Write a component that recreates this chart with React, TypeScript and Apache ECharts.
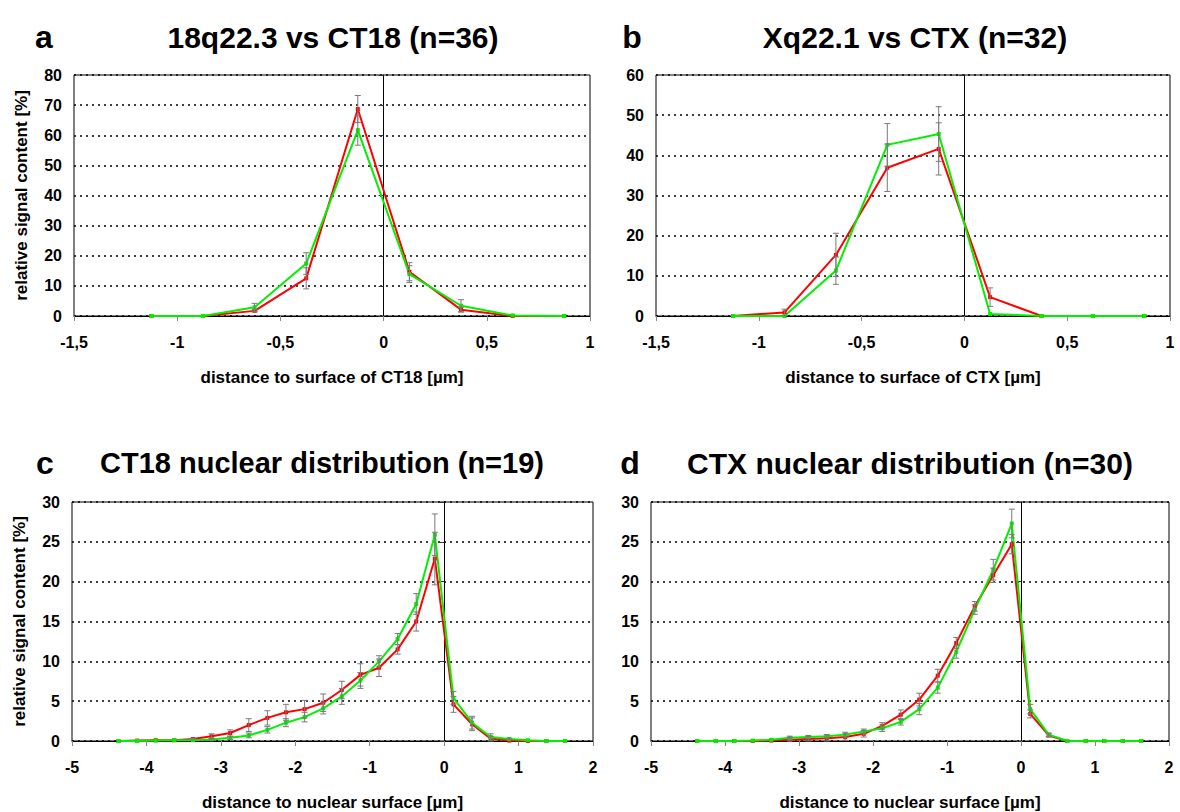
import React, { useEffect, useRef } from "react";
import * as echarts from "echarts";

// ---- Data ----
const xSurface = [-1.125, -0.875, -0.625, -0.375, -0.125, 0.125, 0.375, 0.625, 0.875];
const redA = [0, 0, 1.7, 12.5, 68.7, 14.7, 2.1, 0, 0];
const greenA = [0, 0, 2.9, 17.4, 61.7, 13.9, 3.4, 0.2, 0];
const redErrA = [0, 0, 0.4, 3.5, 4.5, 3.0, 0.8, 0, 0];
const greenErrA = [0, 0, 1.3, 3.6, 5.0, 2.8, 2.0, 0, 0];

const redB = [0, 0.9, 15.2, 36.9, 41.6, 4.7, 0, 0, 0];
const greenB = [0, 0, 11.3, 42.6, 45.3, 0.5, 0, 0, 0];
const redErrB = [0, 0.8, 5.4, 5.9, 6.5, 2.3, 0, 0, 0];
const greenErrB = [0, 0, 3.4, 5.3, 6.8, 0, 0, 0, 0];

const xNuclear = [
  -4.375, -4.125, -3.875, -3.625, -3.375, -3.125, -2.875, -2.625, -2.375, -2.125,
  -1.875, -1.625, -1.375, -1.125, -0.875, -0.625, -0.375, -0.125, 0.125, 0.375,
  0.625, 0.875, 1.125, 1.375, 1.625,
];
const redC = [0, 0.05, 0.1, 0.1, 0.25, 0.6, 1.0, 2.0, 2.9, 3.6, 4.0, 4.8, 6.4, 8.3, 9.2, 11.5, 15.0, 22.9, 4.6, 2.1, 0.3, 0.05, 0, 0, 0];
const greenC = [0, 0, 0.05, 0.1, 0.1, 0.2, 0.4, 0.7, 1.4, 2.3, 3.0, 4.1, 5.6, 7.6, 10.0, 12.8, 17.2, 25.9, 5.4, 2.3, 0.5, 0.25, 0.1, 0, 0];
const redErrC = [0, 0, 0, 0, 0.1, 0.3, 0.4, 0.8, 0.9, 1.0, 1.1, 1.1, 1.1, 1.4, 1.1, 0.6, 1.2, 3.3, 1.0, 0.8, 0.3, 0, 0, 0, 0];
const greenErrC = [0, 0, 0, 0, 0, 0.1, 0.2, 0.3, 0.4, 0.5, 0.6, 0.7, 1.0, 1.0, 0.7, 0.7, 1.3, 2.6, 0.8, 0.8, 0.4, 0.1, 0, 0, 0];

const redD = [0, 0, 0, 0, 0.05, 0.15, 0.25, 0.35, 0.5, 0.9, 1.9, 3.3, 5.2, 8.2, 12.3, 16.9, 20.8, 24.7, 3.4, 0.7, 0, 0, 0, 0, 0];
const greenD = [0, 0, 0, 0.05, 0.15, 0.4, 0.5, 0.6, 0.8, 1.2, 1.6, 2.4, 4.0, 6.7, 11.2, 16.5, 21.5, 27.3, 4.0, 0.8, 0, 0, 0, 0, 0];
const redErrD = [0, 0, 0, 0, 0, 0.3, 0.3, 0.4, 0.4, 0.4, 0.4, 0.6, 0.8, 0.8, 0.7, 0.6, 0.9, 1.2, 0.5, 0.2, 0, 0, 0, 0, 0];
const greenErrD = [0, 0, 0, 0, 0, 0.2, 0.2, 0.2, 0.3, 0.3, 0.4, 0.4, 0.7, 0.7, 0.8, 0.6, 1.3, 1.8, 0.6, 0.2, 0, 0, 0, 0, 0];

const panelLetters = ["a", "b", "c", "d"];
const panelTitles = [
  "18q22.3 vs CT18 (n=36)",
  "Xq22.1 vs CTX (n=32)",
  "CT18 nuclear distribution (n=19)",
  "CTX nuclear distribution (n=30)",
];
const xNames = [
  "distance to surface of CT18 [µm]",
  "distance to surface of CTX [µm]",
  "distance to nuclear surface [µm]",
  "distance to nuclear surface [µm]",
];
const yName = "relative signal content [%]";

const FONT = '"Liberation Sans", Arial, sans-serif';
const RED = "#ff0000";
const GREEN = "#00f000";
const ERR = "#7a7a7a";

type Panel = {
  xs: number[];
  red: number[];
  green: number[];
  redErr: number[];
  greenErr: number[];
  xMin: number;
  xMax: number;
  xInt: number;
  yMax: number;
  yInt: number;
  grid: { left: number; top: number; width: number; height: number };
  showYName: boolean;
};

const panels: Panel[] = [
  { xs: xSurface, red: redA, green: greenA, redErr: redErrA, greenErr: greenErrA, xMin: -1.5, xMax: 1, xInt: 0.5, yMax: 80, yInt: 10, grid: { left: 74, top: 75, width: 516, height: 241 }, showYName: true },
  { xs: xSurface, red: redB, green: greenB, redErr: redErrB, greenErr: greenErrB, xMin: -1.5, xMax: 1, xInt: 0.5, yMax: 60, yInt: 10, grid: { left: 656, top: 75, width: 514, height: 241 }, showYName: false },
  { xs: xNuclear, red: redC, green: greenC, redErr: redErrC, greenErr: greenErrC, xMin: -5, xMax: 2, xInt: 1, yMax: 30, yInt: 5, grid: { left: 72, top: 502, width: 521, height: 243 }, showYName: true },
  { xs: xNuclear, red: redD, green: greenD, redErr: redErrD, greenErr: greenErrD, xMin: -5, xMax: 2, xInt: 1, yMax: 30, yInt: 5, grid: { left: 651, top: 502, width: 518, height: 243 }, showYName: false },
];

const letterPos = [
  [44, 37],
  [632, 37],
  [45, 463],
  [630, 463],
];
const titlePos = [
  [333, 37],
  [915, 37],
  [322, 463],
  [910, 463],
];
const titleSizes = [30, 30, 29, 30];

function errData(xs: number[], v: number[], e: number[]) {
  const out: number[][] = [];
  xs.forEach((x, i) => {
    if (e[i] > 0) out.push([x, Math.max(0, v[i] - e[i]), v[i] + e[i]]);
  });
  return out;
}

export default function App() {
  const ref = useRef<HTMLDivElement>(null);
  useEffect(() => {
    if (!ref.current) return;
    const chart = echarts.init(ref.current, undefined, { renderer: "svg" });

    const grids: any[] = [];
    const xAxes: any[] = [];
    const yAxes: any[] = [];
    const series: any[] = [];
    const graphics: any[] = [];

    panels.forEach((p, i) => {
      grids.push({ ...p.grid, show: true, borderColor: "#000", borderWidth: 1, backgroundColor: "transparent" });
      xAxes.push({
        type: "value",
        gridIndex: i,
        min: p.xMin,
        max: p.xMax,
        interval: p.xInt,
        axisLine: { onZero: false, lineStyle: { color: "#000", width: 1 } },
        axisTick: { show: true, length: 5, lineStyle: { color: "#888" } },
        splitLine: { show: false },
        axisLabel: {
          margin: 18,
          color: "#000",
          fontWeight: "bold",
          fontSize: 16,
          fontFamily: FONT,
          formatter: (v: number) => String(v).replace(".", ","),
        },
        name: xNames[i],
        nameLocation: "middle",
        nameGap: 53,
        nameTextStyle: { color: "#000", fontWeight: "bold", fontSize: 17, fontFamily: FONT },
      });
      yAxes.push({
        type: "value",
        gridIndex: i,
        position: "left",
        min: 0,
        max: p.yMax,
        interval: p.yInt,
        axisLine: { show: false, onZero: false },
        axisTick: { show: false },
        splitLine: { show: true, lineStyle: { color: "#000", type: [2, 4], width: 1.5 } },
        axisLabel: { margin: 12, color: "#000", fontWeight: "bold", fontSize: 16, fontFamily: FONT },
        name: p.showYName ? yName : "",
        nameLocation: "middle",
        nameGap: 44,
        nameTextStyle: { color: "#000", fontWeight: "bold", fontSize: 17, fontFamily: FONT },
      });
      yAxes.push({
        type: "value",
        gridIndex: i,
        position: "left",
        min: 0,
        max: p.yMax,
        interval: p.yInt,
        axisLine: { show: true, onZero: true, lineStyle: { color: "#000", width: 1 } },
        axisTick: { show: true, length: 5, lineStyle: { color: "#333" } },
        splitLine: { show: false },
        axisLabel: { show: false },
      });

      const mk = (name: string, vals: number[], color: string) => ({
        name,
        type: "line",
        xAxisIndex: i,
        yAxisIndex: i * 2,
        data: p.xs.map((x, k) => [x, vals[k]]),
        symbol: "rect",
        symbolSize: 4,
        showSymbol: true,
        lineStyle: { color, width: 2 },
        itemStyle: { color },
        z: 3,
      });
      series.push(mk("red", p.red, RED));
      series.push(mk("green", p.green, GREEN));
      [errData(p.xs, p.red, p.redErr), errData(p.xs, p.green, p.greenErr)].forEach((d) => {
        series.push({
          type: "custom",
          xAxisIndex: i,
          yAxisIndex: i * 2,
          data: d,
          encode: { x: 0, y: [1, 2] },
          z: 4,
          renderItem: (params: any, api: any) => {
            const lo = api.coord([api.value(0), api.value(1)]);
            const hi = api.coord([api.value(0), api.value(2)]);
            const w = 3;
            const st = { stroke: ERR, lineWidth: 1 };
            return {
              type: "group",
              children: [
                { type: "line", shape: { x1: lo[0], y1: lo[1], x2: hi[0], y2: hi[1] }, style: st },
                { type: "line", shape: { x1: lo[0] - w, y1: lo[1], x2: lo[0] + w, y2: lo[1] }, style: st },
                { type: "line", shape: { x1: hi[0] - w, y1: hi[1], x2: hi[0] + w, y2: hi[1] }, style: st },
              ],
            };
          },
        });
      });

      graphics.push({
        type: "text",
        x: letterPos[i][0],
        y: letterPos[i][1],
        style: { text: panelLetters[i], fill: "#000", fontSize: 32, fontWeight: "bold", fontFamily: FONT, align: "center", verticalAlign: "middle" },
      });
      graphics.push({
        type: "text",
        x: titlePos[i][0],
        y: titlePos[i][1],
        style: { text: panelTitles[i], fill: "#000", fontSize: titleSizes[i], fontWeight: "bold", fontFamily: FONT, align: "center", verticalAlign: "middle" },
      });
    });

    chart.setOption({
      animation: false,
      backgroundColor: "#fff",
      grid: grids,
      xAxis: xAxes,
      yAxis: yAxes,
      series,
      graphic: graphics,
    });
    return () => chart.dispose();
  }, []);

  return (
    <div
      ref={ref}
      style={{ position: "fixed", left: 0, top: 0, width: 1180, height: 812, background: "#fff" }}
    />
  );
}
